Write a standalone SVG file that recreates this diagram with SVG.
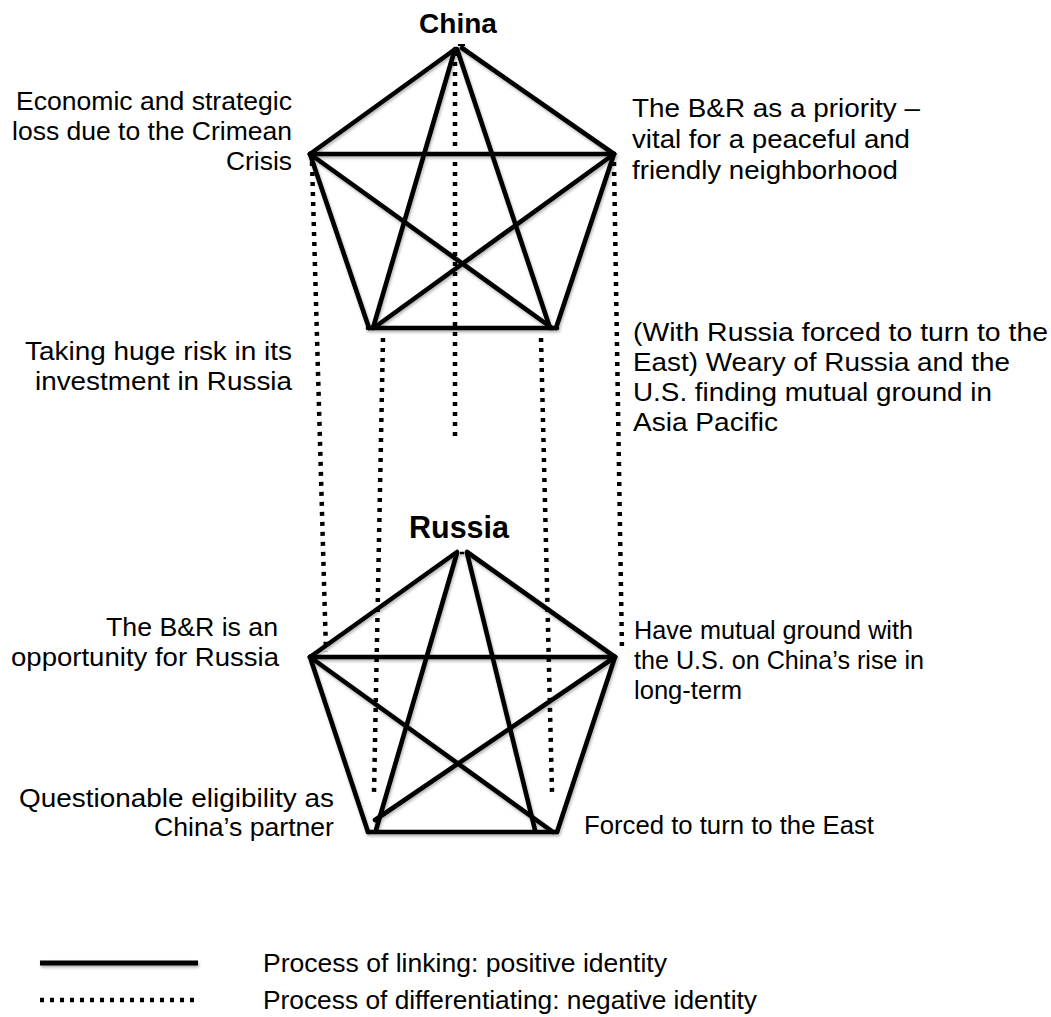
<svg xmlns="http://www.w3.org/2000/svg" width="1051" height="1017" viewBox="0 0 1051 1017">
<style>
.s{stroke:#000;stroke-width:4.6;stroke-linecap:round;fill:none}
.d{stroke:#000;stroke-width:4.5;stroke-dasharray:4 6;fill:none}
.t{font-family:"Liberation Sans",Arial,sans-serif;font-size:25px;fill:#000}
.h{font-family:"Liberation Sans",Arial,sans-serif;font-weight:bold;fill:#000;text-anchor:middle}
.r{text-anchor:end}
</style>
<defs>
<filter id="sh" filterUnits="userSpaceOnUse" x="0" y="0" width="1051" height="1017">
<feDropShadow dx="1" dy="2" stdDeviation="1.5" flood-color="#000" flood-opacity="0.3"/>
</filter>
</defs>
<rect width="1051" height="1017" fill="#fff"/>
<g id="connectors">
<g id="differentiating">
<line class="d" x1="455" y1="52" x2="455" y2="437"/>
<line class="d" x1="312" y1="162" x2="326" y2="652"/>
<line class="d" x1="614" y1="162" x2="622" y2="652"/>
<line class="d" x1="383" y1="338" x2="374" y2="792"/>
<line class="d" x1="541" y1="338" x2="552" y2="792"/>
</g>
<g id="china-links" filter="url(#sh)">
<line class="s" x1="454" y1="50" x2="310" y2="154"/>
<line class="s" x1="462" y1="48" x2="614" y2="154"/>
<line class="s" x1="310" y1="154" x2="614" y2="154"/>
<line class="s" x1="310" y1="154" x2="369" y2="328"/>
<line class="s" x1="614" y1="154" x2="556" y2="328"/>
<line class="s" x1="368" y1="328" x2="557" y2="328"/>
<line class="s" x1="455" y1="49" x2="373" y2="328"/>
<line class="s" x1="457" y1="49" x2="550" y2="328"/>
<line class="s" x1="310" y1="154" x2="552" y2="328"/>
<line class="s" x1="614" y1="154" x2="375" y2="327"/>
<line stroke="#000" stroke-width="2" x1="458" y1="45" x2="465" y2="45"/>
</g>
<g id="russia-links" filter="url(#sh)">
<line class="s" x1="457" y1="552" x2="310" y2="657"/>
<line class="s" x1="467" y1="552" x2="615" y2="657"/>
<line class="s" x1="310" y1="657" x2="615" y2="657"/>
<line class="s" x1="310" y1="657" x2="368" y2="832"/>
<line class="s" x1="615" y1="657" x2="557" y2="832"/>
<line class="s" x1="368" y1="832" x2="557" y2="832"/>
<line class="s" x1="457" y1="553" x2="376" y2="830"/>
<line class="s" x1="467" y1="553" x2="535" y2="830"/>
<line class="s" x1="310" y1="657" x2="553" y2="832"/>
<line class="s" x1="615" y1="657" x2="375" y2="820"/>
<line stroke="#000" stroke-width="2.5" x1="460" y1="553" x2="464" y2="553"/>
</g>
</g>
<g id="china">
<text class="h" x="458" y="33" font-size="28">China</text>
</g>
<g id="russia">
<text class="h" x="459" y="538" font-size="30.5">Russia</text>
</g>
<g id="china-crimea">
<text class="t r" x="292" y="110" textLength="276" lengthAdjust="spacingAndGlyphs">Economic and strategic</text>
<text class="t r" x="292" y="140" textLength="280" lengthAdjust="spacingAndGlyphs">loss due to the Crimean</text>
<text class="t r" x="292" y="170" textLength="66" lengthAdjust="spacingAndGlyphs">Crisis</text>
</g>
<g id="china-br">
<text class="t" x="632" y="117" textLength="288" lengthAdjust="spacingAndGlyphs">The B&amp;R as a priority –</text>
<text class="t" x="632" y="148" textLength="278" lengthAdjust="spacingAndGlyphs">vital for a peaceful and</text>
<text class="t" x="632" y="179" textLength="266" lengthAdjust="spacingAndGlyphs">friendly neighborhood</text>
</g>
<g id="china-risk">
<text class="t r" x="292" y="360" textLength="267" lengthAdjust="spacingAndGlyphs">Taking huge risk in its</text>
<text class="t r" x="292" y="390" textLength="257" lengthAdjust="spacingAndGlyphs">investment in Russia</text>
</g>
<g id="china-weary">
<text class="t" x="633" y="341" textLength="415" lengthAdjust="spacingAndGlyphs">(With Russia forced to turn to the</text>
<text class="t" x="633" y="371" textLength="377" lengthAdjust="spacingAndGlyphs">East) Weary of Russia and the</text>
<text class="t" x="633" y="401" textLength="359" lengthAdjust="spacingAndGlyphs">U.S. finding mutual ground in</text>
<text class="t" x="633" y="431" textLength="145" lengthAdjust="spacingAndGlyphs">Asia Pacific</text>
</g>
<g id="russia-br">
<text class="t r" x="278" y="636" textLength="172" lengthAdjust="spacingAndGlyphs">The B&amp;R is an</text>
<text class="t r" x="279" y="666" textLength="268" lengthAdjust="spacingAndGlyphs">opportunity for Russia</text>
</g>
<g id="russia-mutual">
<text class="t" x="634" y="639" textLength="279" lengthAdjust="spacingAndGlyphs">Have mutual ground with</text>
<text class="t" x="634" y="669" textLength="290" lengthAdjust="spacingAndGlyphs">the U.S. on China’s rise in</text>
<text class="t" x="634" y="699" textLength="108" lengthAdjust="spacingAndGlyphs">long-term</text>
</g>
<g id="russia-eligibility">
<text class="t r" x="334" y="807" textLength="315" lengthAdjust="spacingAndGlyphs">Questionable eligibility as</text>
<text class="t r" x="334" y="836" textLength="180" lengthAdjust="spacingAndGlyphs">China’s partner</text>
</g>
<g id="russia-east">
<text class="t" x="584" y="834" textLength="290" lengthAdjust="spacingAndGlyphs">Forced to turn to the East</text>
</g>
<g id="legend">
<line stroke="#000" stroke-width="5" x1="40" y1="963" x2="198" y2="963" filter="url(#sh)"/>
<line class="d" x1="40" y1="1000" x2="198" y2="1000"/>
<text class="t" x="263" y="972" textLength="404" lengthAdjust="spacingAndGlyphs">Process of linking: positive identity</text>
<text class="t" x="263" y="1009" textLength="494" lengthAdjust="spacingAndGlyphs">Process of differentiating: negative identity</text>
</g>
</svg>
